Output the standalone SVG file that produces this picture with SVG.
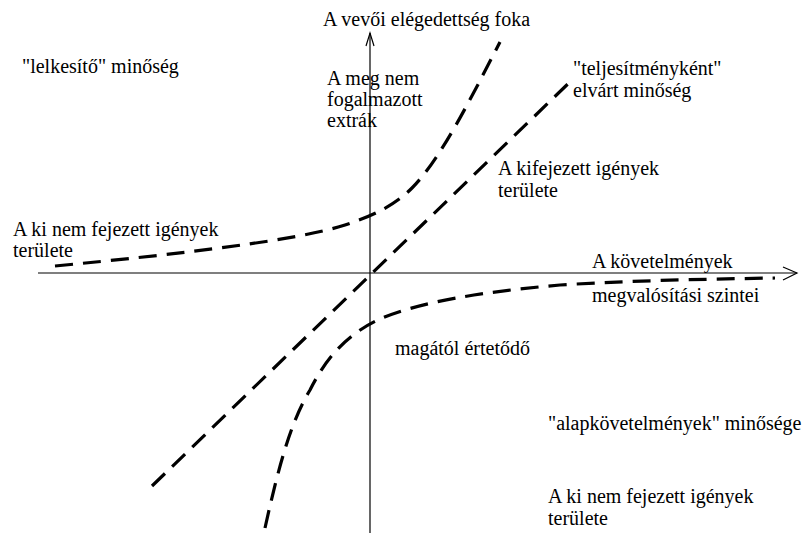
<svg xmlns="http://www.w3.org/2000/svg" width="811" height="533" viewBox="0 0 811 533">
<style>
text{font-family:'Liberation Serif','DejaVu Serif','Times New Roman',serif;font-size:20px;fill:#000}
.axis{stroke:#000;stroke-width:1.2;fill:none}
.curve{stroke:#000;stroke-width:3.2;fill:none;stroke-dasharray:18 10}
</style>
<rect width="811" height="533" fill="#fff"/>
<g id="axes">
<line class="axis" x1="370" y1="33" x2="370" y2="533"/>
<polyline class="axis" points="366,46 370,33 374,46"/>
<line class="axis" x1="38" y1="273" x2="797" y2="273"/>
<polyline class="axis" points="783,267 797,273 783,280"/>
</g>
<g id="connectors">
<path id="linear" class="curve" d="M152,486 L573,79"/>
<path id="exciting" class="curve" d="M55,266 C180,254 300,240 345,225 C375,215 395,205 412,188 C440,160 470,100 500,42"/>
<path id="basic" class="curve" d="M265,528 C280,460 292,420 310,390 C325,360 345,335 380,319 C420,302 480,292 560,285 C640,280 720,279 775,278"/>
</g>
<g id="labels">
<text x="323" y="26">A vevői elégedettség foka</text>
<text x="327" y="85">A meg nem</text>
<text x="327" y="106">fogalmazott</text>
<text x="327" y="127">extrák</text>
<text x="22" y="73">"lelkesítő" minőség</text>
<text x="573" y="75">"teljesítményként"</text>
<text x="573" y="97">elvárt minőség</text>
<text x="498" y="175">A kifejezett igények</text>
<text x="498" y="197">területe</text>
<text x="13" y="236">A ki nem fejezett igények</text>
<text x="13" y="257">területe</text>
<text x="592" y="268">A követelmények</text>
<text x="592" y="302">megvalósítási szintei</text>
<text x="395" y="355">magától értetődő</text>
<text x="548" y="430">"alapkövetelmények" minősége</text>
<text x="548" y="503">A ki nem fejezett igények</text>
<text x="548" y="525">területe</text>
</g>
</svg>
